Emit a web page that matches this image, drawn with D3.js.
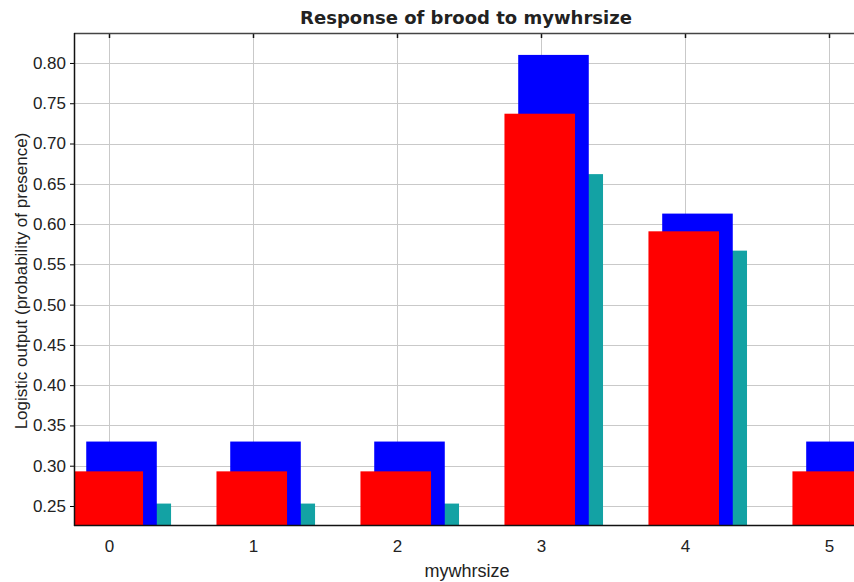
<!DOCTYPE html>
<html>
<head>
<meta charset="utf-8">
<script src="https://cdn.jsdelivr.net/npm/d3@7"></script>
<style>
  html, body { margin: 0; padding: 0; background: #fff; }
  svg { display: block; }
  text { font-family: "Liberation Sans", Arial, sans-serif; fill: #222; }
</style>
</head>
<body>
<svg id="chart" width="854" height="582"></svg>
<script>
// mywhrsize categories and the response of brood to each
const categories = [0, 1, 2, 3, 4, 5];
const meanPlusSd  = [0.330, 0.330, 0.330, 0.810, 0.613, 0.330];  // blue
const meanValue   = [0.293, 0.293, 0.293, 0.737, 0.591, 0.293];  // red
const meanMinusSd = [0.253, 0.253, 0.253, 0.662, 0.567, 0.253];  // teal
const yTicks = [0.25, 0.30, 0.35, 0.40, 0.45, 0.50, 0.55, 0.60, 0.65, 0.70, 0.75, 0.80];
const xTicks = [0, 1, 2, 3, 4, 5];

const svg = d3.select("#chart");
const m = { left: 74, top: 33, right: 854, bottom: 525 };

const x = d3.scaleLinear().domain([-0.243, 5.174]).range([m.left, m.right]);
const y = d3.scaleLinear().domain([0.2264, 0.8372]).range([m.bottom, m.top]);

svg.append("defs").append("clipPath").attr("id", "plotclip")
  .append("rect")
  .attr("x", m.left).attr("y", m.top)
  .attr("width", m.right - m.left).attr("height", m.bottom - m.top);

// grid
const grid = svg.append("g").attr("stroke", "#c9c9c9").attr("stroke-width", 1);
grid.selectAll(".gy").data(yTicks).join("line")
  .attr("x1", m.left).attr("x2", m.right)
  .attr("y1", d => Math.round(y(d)) + 0.5).attr("y2", d => Math.round(y(d)) + 0.5);
grid.selectAll(".gx").data(xTicks).join("line")
  .attr("y1", m.top).attr("y2", m.bottom)
  .attr("x1", d => Math.round(x(d)) + 0.5).attr("x2", d => Math.round(x(d)) + 0.5);

// bars: three overlapping offset bars per category
const barW = 0.49;
const series = [
  { values: meanMinusSd, offset: -0.059, color: "#13a2a4" },
  { values: meanPlusSd,  offset: -0.158, color: "#0000ff" },
  { values: meanValue,   offset: -0.2535, color: "#ff0000" }
];
const bars = svg.append("g").attr("clip-path", "url(#plotclip)");
series.forEach(s => {
  bars.append("g").selectAll("rect")
    .data(categories.map((c, i) => ({ c, v: s.values[i] })))
    .join("rect")
    .attr("x", d => x(d.c + s.offset))
    .attr("width", d => x(d.c + s.offset + barW) - x(d.c + s.offset))
    .attr("y", d => y(d.v))
    .attr("height", d => y.range()[0] - y(d.v))
    .attr("fill", s.color);
});

// y axis
const yAxis = svg.append("g")
  .attr("transform", `translate(${m.left},0)`)
  .call(d3.axisLeft(y).tickValues(yTicks).tickFormat(d3.format(".2f")).tickSize(4).tickPadding(4));
yAxis.select(".domain").remove();
yAxis.selectAll("line").attr("stroke", "#000");
yAxis.selectAll("text").style("font-size", "17px")
  .style("font-family", "'Liberation Sans', Arial, sans-serif").attr("fill", "#222");

// x axis labels under the plot
const xAxis = svg.append("g")
  .attr("transform", `translate(0,${m.bottom})`)
  .call(d3.axisBottom(x).tickValues(xTicks).tickFormat(d3.format("d")).tickSize(0).tickPadding(15));
xAxis.select(".domain").remove();
xAxis.selectAll("text").style("font-size", "17px")
  .style("font-family", "'Liberation Sans', Arial, sans-serif").attr("fill", "#222");

// small tick marks hanging from the top border
svg.append("g").selectAll("line").data(xTicks).join("line")
  .attr("x1", d => Math.round(x(d)) + 0.5).attr("x2", d => Math.round(x(d)) + 0.5)
  .attr("y1", m.top).attr("y2", m.top + 5)
  .attr("stroke", "#111").attr("stroke-width", 1.5);

// frame
svg.append("line").attr("x1", m.left).attr("x2", m.right)
  .attr("y1", m.top + 0.5).attr("y2", m.top + 0.5).attr("stroke", "#444").attr("stroke-width", 1.5);
svg.append("line").attr("x1", m.left).attr("x2", m.right)
  .attr("y1", m.bottom + 0.5).attr("y2", m.bottom + 0.5).attr("stroke", "#111").attr("stroke-width", 1.5);
svg.append("line").attr("x1", m.left + 0.5).attr("x2", m.left + 0.5)
  .attr("y1", m.top).attr("y2", m.bottom + 1).attr("stroke", "#111").attr("stroke-width", 1.5);

// titles
svg.append("text").attr("x", 466).attr("y", 24).attr("text-anchor", "middle")
  .style("font-family", "'DejaVu Sans', Verdana, sans-serif")
  .style("font-size", "18px").style("font-weight", "bold").attr("fill", "#000")
  .text("Response of brood to mywhrsize");
svg.append("text").attr("x", 467).attr("y", 577).attr("text-anchor", "middle")
  .style("font-size", "18px").text("mywhrsize");
svg.append("text").attr("transform", "translate(27,281) rotate(-90)").attr("text-anchor", "middle")
  .style("font-size", "17px").text("Logistic output (probability of presence)");
</script>
</body>
</html>
